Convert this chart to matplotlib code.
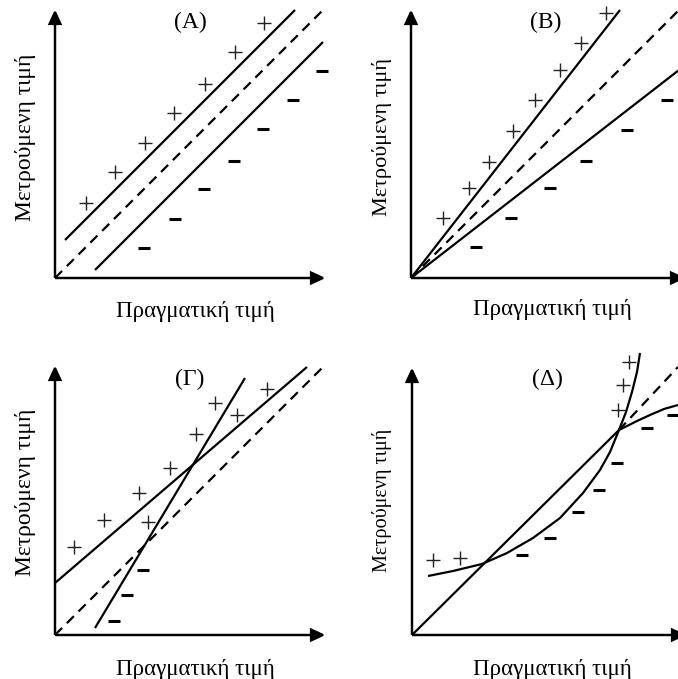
import numpy as np
import matplotlib.pyplot as plt

plt.rcParams['font.family'] = ['Liberation Serif', 'DejaVu Serif']

xlabel_text = 'Πραγματική τιμή'
ylabel_text = 'Μετρούμενη τιμή'

# (A) constant offset
a_plus_x = [31, 60, 90, 119, 150, 180, 209]
a_plus_y = [75, 106, 135, 165, 194, 226, 255]
a_minus_x = [89, 120, 149, 179, 208, 238, 267]
a_minus_y = [30, 59, 89, 117, 149, 178, 207]
a_ideal = ([0, 268], [0, 268])
a_upper = ([10, 240], [38, 268])
a_lower = ([40, 268], [8, 236])

# (B) proportional error
b_plus_x = [32, 58, 78, 102, 124, 149, 170, 195]
b_plus_y = [60, 90, 116, 147, 178, 208, 235, 265]
b_minus_x = [65, 100, 139, 175, 216, 256]
b_minus_y = [31, 60, 90, 117, 148, 178]
b_ideal = ([0, 268], [0, 268])
b_upper = ([0, 209], [0, 268])
b_lower = ([0, 268], [0, 208])

# (Γ) offset + slope
g_plus_x = [19, 49, 84, 115, 93, 141, 160, 182, 212]
g_plus_y = [88, 115, 142, 167, 113, 201, 232, 220, 246]
g_minus_x = [88, 72, 59]
g_minus_y = [65, 40, 14]
g_ideal = ([0, 268], [0, 268])
g_shallow = ([0, 252], [52, 268])
g_steep = ([40, 190], [7, 257])

# (Δ) non-linearity
d_plus_x = [21, 48, 206, 211, 217]
d_plus_y = [75, 77, 225, 250, 273]
d_minus_x = [110, 138, 166, 187, 205, 235, 261]
d_minus_y = [80, 97, 123, 145, 172, 207, 220]
d_line = ([0, 207], [0, 205])
d_ideal_rest = ([207, 266], [205, 268])
d_convex_x = [16, 41, 70, 95, 121, 148, 171, 188, 198, 207, 214, 220, 225, 228]
d_convex_y = [59, 64, 71, 82, 97, 117, 142, 165, 183, 205, 223, 243, 263, 282]
d_concave_x = [207, 225, 238, 252, 266]
d_concave_y = [205, 214, 220, 226, 230]

W, H = 678, 679
fig = plt.figure(figsize=(W / 100, H / 100), dpi=100)
fig.patch.set_facecolor('white')


def make_panel(x0, x1, y0, y1, ox, oy):
    ax = fig.add_axes([x0 / W, 1 - y1 / H, (x1 - x0) / W, (y1 - y0) / H])
    ax.set_xlim(x0 - ox, x1 - ox)
    ax.set_ylim(oy - y1, oy - y0)
    ax.axis('off')
    return ax


def draw_axes(ax, xlen, ylen):
    kw = dict(width=0, head_width=11, head_length=12, length_includes_head=True,
              fc='k', ec='k', lw=1.6, clip_on=False)
    ax.arrow(0, 0, xlen, 0, **kw)
    ax.arrow(0, 0, 0, ylen, **kw)


def draw_marks(ax, px, py, mx, my):
    ax.plot(px, py, ls='none', marker='+', ms=10, mew=1.0, color='#222222')
    ax.plot(mx, my, ls='none', marker='_', ms=8, mew=2.2, color='k')


def labels(ax, title, xl, yl, ysize=17):
    ax.text(135, 256, title, ha='center', va='center', fontsize=17)
    ax.text(xl[0], xl[1], xlabel_text, ha='center', va='center', fontsize=16.5)
    ax.text(yl[0], yl[1], ylabel_text, ha='center', va='center', fontsize=ysize,
            rotation=90)


solid = dict(color='k', lw=1.6, solid_capstyle='butt')
dashed = dict(color='k', lw=1.6, ls=(0, (4.5, 3)))

# (A)
ax = make_panel(0, 339, 0, 339, 55, 278)
draw_axes(ax, 268, 266)
ax.plot(*a_ideal, **dashed)
ax.plot(*a_upper, **solid)
ax.plot(*a_lower, **solid)
draw_marks(ax, a_plus_x, a_plus_y, a_minus_x, a_minus_y)
labels(ax, '(A)', (140, -34), (-30, 141))

# (B)
ax = make_panel(339, 678, 0, 339, 411, 278)
draw_axes(ax, 272, 266)
ax.plot(*b_ideal, **dashed)
ax.plot(*b_upper, **solid)
ax.plot(*b_lower, **solid)
draw_marks(ax, b_plus_x, b_plus_y, b_minus_x, b_minus_y)
labels(ax, '(B)', (141, -32), (-29, 141), ysize=16)

# (Γ)
ax = make_panel(0, 339, 339, 679, 55, 635)
draw_axes(ax, 268, 267)
ax.plot(*g_ideal, **dashed)
ax.plot(*g_shallow, **solid)
ax.plot(*g_steep, **solid)
draw_marks(ax, g_plus_x, g_plus_y, g_minus_x, g_minus_y)
labels(ax, '(Γ)', (140, -34), (-30, 143))

# (Δ)
ax = make_panel(339, 678, 339, 679, 412, 635)
draw_axes(ax, 272, 265)
ax.plot(*d_line, **solid)
ax.plot(*d_ideal_rest, **dashed)
ax.plot(d_convex_x, d_convex_y, **solid)
ax.plot(d_concave_x, d_concave_y, **solid)
draw_marks(ax, d_plus_x, d_plus_y, d_minus_x, d_minus_y)
labels(ax, '(Δ)', (140, -34), (-30, 135), ysize=14.5)

fig.savefig('out.png', dpi=100, facecolor='white')
